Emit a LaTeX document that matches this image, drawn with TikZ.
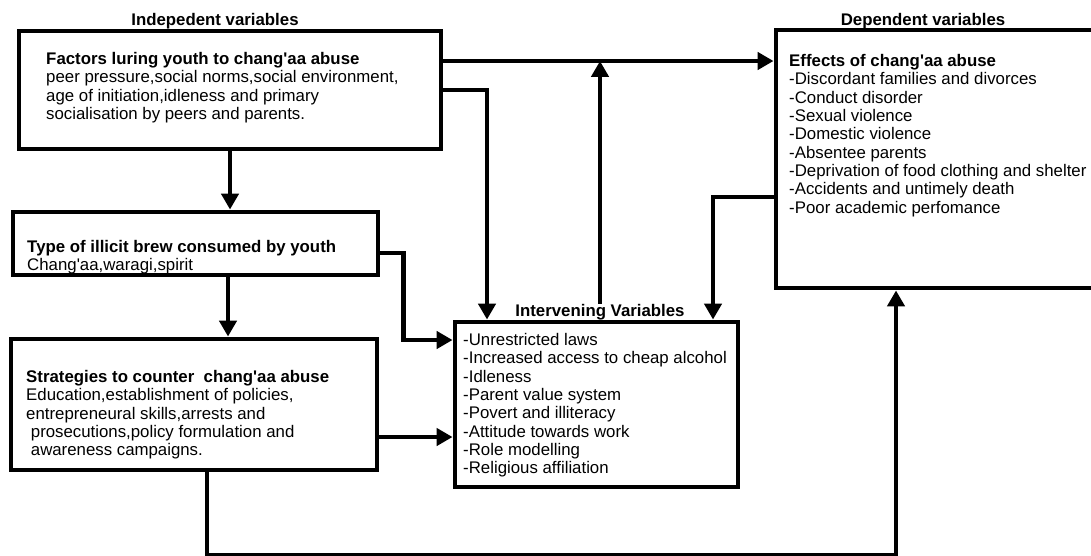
\documentclass[tikz,border=0pt]{standalone}
\usepackage{fontspec}
\setmainfont{Liberation Sans}[Ligatures=TeXOff]
\usepackage{tikz}
\usetikzlibrary{arrows.meta,fit}
\newcommand{\vfont}{\fontsize{14.35}{15.65}\selectfont}

\begin{document}
\begin{tikzpicture}[
  x=0.03cm,y=-0.03cm,
  box/.style={draw,line width=4.2pt,inner sep=0pt},
  txt/.style={anchor=north west,inner sep=0pt,align=left,font=\vfont},
  head/.style={anchor=base,inner sep=0pt,font=\vfont\bfseries},
  arr/.style={-{Triangle[length=13.5pt,width=14.5pt]},line width=3.7pt}
]
  \useasboundingbox (0,0) rectangle (1091,555);

  % Headings
  \node[head] (indep) at (215,25) {Indepedent variables};
  \node[head] (dep) at (923,25) {Dependent variables};
  \node[head] (ivlabel) at (600,316) {Intervening Variables};

  % Boxes
  \node[box,fit={(19,31) (441,149)}] (factors) {};
  \node[box,fit={(13,212) (378,275)}] (type) {};
  \node[box,fit={(11,339) (377,470)}] (strat) {};
  \node[box,fit={(455,322) (738,487)}] (interv) {};
  \node[box,fit={(776,30) (1115,288)}] (effects) {};

  % Box texts
  \node[txt] (factorstxt) at (46,52) {\textbf{Factors luring youth to chang'aa abuse}\\
    peer pressure,social norms,social environment,\\
    age of initiation,idleness and primary\\
    socialisation by peers and parents.};
  \node[txt] (typetxt) at (27,240) {\textbf{Type of illicit brew consumed by youth}\\
    Chang'aa,waragi,spirit};
  \node[txt] (strattxt) at (26,370) {\textbf{Strategies to counter~ chang'aa abuse}\\
    Education,establishment of policies,\\
    entrepreneural skills,arrests and\\
    \ prosecutions,policy formulation and\\
    \ awareness campaigns.};
  \node[txt] (intervtxt) at (463,333) {-Unrestricted laws\\
    -Increased access to cheap alcohol\\
    -Idleness\\
    -Parent value system\\
    -Povert and illiteracy\\
    -Attitude towards work\\
    -Role modelling\\
    -Religious affiliation};
  \node[txt] (effectstxt) at (789,54) {\textbf{Effects of chang'aa abuse}\\
    -Discordant families and divorces\\
    -Conduct disorder\\
    -Sexual violence\\
    -Domestic violence\\
    -Absentee parents\\
    -Deprivation of food clothing and shelter\\
    -Accidents and untimely death\\
    -Poor academic perfomance};

  % Connectors
  \draw[arr] (factors.east |- 0,61) -- (effects.west |- 0,61);
  \draw[arr] (factors.east |- 0,90) -| (487,0 |- interv.north);
  \draw[arr] (ivlabel.north) -- (ivlabel.north |- 0,61);
  \draw[arr] (effects.west |- 0,197) -| (713,0 |- interv.north);
  \draw[arr] (factors.south -| 230,0) -- (type.north -| 230,0);
  \draw[arr] (type.south -| 228,0) -- (strat.north -| 228,0);
  \draw[arr] (type.east |- 0,253) -- ++(23,0) |- (interv.west |- 0,340);
  \draw[arr] (strat.east |- 0,437) -- (interv.west |- 0,437);
  \draw[arr] (strat.south -| 207,0) -- ++(0,83) -| (effects.south -| 896,0);
\end{tikzpicture}
\end{document}
